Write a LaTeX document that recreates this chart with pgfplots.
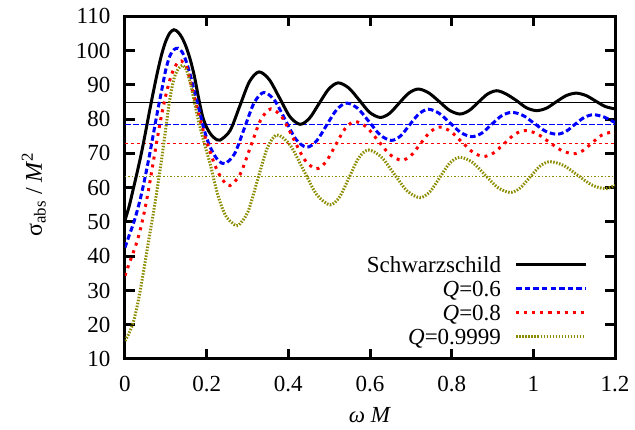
\documentclass[border=0pt]{standalone}
\usepackage{fontspec}
\setmainfont{Liberation Serif}
\usepackage{pgfplots}
\pgfplotsset{compat=1.18}
\definecolor{olivec}{RGB}{140,140,0}
\begin{document}
\begin{tikzpicture}[font=\fontsize{23}{27.6}\selectfont]
\begin{axis}[
  name=ax,
  scale only axis,
  width=490pt, height=342.6pt,
  xmin=0, xmax=1.2, ymin=10, ymax=110,
  xtick={0,0.2,0.4,0.6,0.8,1,1.2},
  ytick={10,20,30,40,50,60,70,80,90,100,110},
  /pgf/number format/assume math mode=true,
  tick align=inside,
  major tick length=10pt,
  tick style={line width=3pt, black},
  axis line style={line width=3pt},
  xticklabel style={inner sep=0pt, yshift=-17pt},
  yticklabel style={inner sep=0pt, xshift=-14.5pt},
  xlabel={\textit{ω} \textit{M}},
  xlabel style={at={(axis description cs:0.5,0)}, anchor=base, yshift=-64pt, inner sep=0pt},
  ylabel={σ\textsubscript{abs} / \textit{M}\textsuperscript{2}},
  ylabel style={at={(axis description cs:-0.1694,0.48)}, anchor=base, inner sep=0pt, font=\fontsize{24}{28}\selectfont},
  legend cell align=right,
  legend plot pos=right,
  legend image code/.code={\draw[#1] (0pt,0pt) -- (69pt,0pt);},
  legend style={draw=none, fill=none, at={(axis description cs:1,0)}, anchor=south east,
    xshift=-28pt, yshift=10pt, inner sep=0pt, outer sep=0pt, row sep=0pt, column sep=14pt,
    nodes={inner sep=0pt, text height=19.7pt, text depth=4.3pt}},
]
% reference (geometric) lines
\addplot[forget plot, black, line width=1pt] coordinates {(0,84.9) (1.2,84.9)};
\addplot[forget plot, blue, line width=1pt, dash pattern=on 6pt off 2pt] coordinates {(0,78.5) (1.2,78.5)};
\addplot[forget plot, red, line width=1pt, dash pattern=on 3pt off 3pt] coordinates {(0,73.0) (1.2,73.0)};
\addplot[forget plot, olivec, line width=1.3pt, dash pattern=on 1.5pt off 2pt] coordinates {(0,63.3) (1.2,63.3)};

% Schwarzschild
\addplot[black, line width=3pt, smooth] coordinates {
(0,50.5) (0.01,54.5) (0.02,59.5) (0.03,64.6) (0.04,70.0) (0.05,76.0) (0.06,82.3) (0.07,88.3)
(0.08,94.0) (0.09,99.0) (0.10,102.8) (0.11,105.2) (0.12,106.1) (0.13,105.4) (0.14,103.7)
(0.15,101.0) (0.16,97.3) (0.17,92.5) (0.18,86.3) (0.19,80.8) (0.20,77.6) (0.21,75.6)
(0.22,74.4) (0.233,73.9) (0.2575,76.7) (0.281,83.8) (0.3045,90.9) (0.328,93.8)
(0.353,91.6) (0.3785,86.2) (0.404,80.7) (0.429,78.5) (0.452,80.3) (0.4755,84.6)
(0.499,88.8) (0.522,90.6) (0.548,89.1) (0.5735,85.6) (0.599,82.0) (0.625,80.5)
(0.648,81.7) (0.6715,84.7) (0.695,87.6) (0.718,88.8) (0.7435,87.7) (0.769,85.2)
(0.7945,82.6) (0.820,81.5) (0.8425,82.5) (0.865,84.9) (0.8875,87.3) (0.910,88.3)
(0.9325,87.4) (0.959,85.4) (0.9835,83.3) (1.008,82.5) (1.032,83.2) (1.0565,85.1)
(1.081,86.9) (1.105,87.6) (1.129,86.9) (1.1525,85.3) (1.176,83.7) (1.2,83.0)};
\addlegendentry{Schwarzschild}

% Q = 0.6
\addplot[blue, line width=3pt, smooth, dash pattern=on 5.5pt off 3pt] coordinates {
(0,42.5) (0.01,46.0) (0.02,49.3) (0.03,53.3) (0.04,58.0) (0.05,63.5) (0.06,69.5) (0.07,76.0)
(0.08,82.5) (0.09,88.5) (0.10,94.5) (0.11,98.5) (0.12,100.3) (0.13,100.7) (0.14,99.6)
(0.15,96.8) (0.16,92.8) (0.17,88.0) (0.18,83.5) (0.19,78.6) (0.20,74.5) (0.21,71.5)
(0.22,69.3) (0.23,67.8) (0.245,67.0) (0.2688,70.0) (0.2925,77.4) (0.3163,84.8) (0.340,87.8)
(0.3663,85.5) (0.3925,79.8) (0.4188,74.1) (0.445,71.8) (0.4695,73.7) (0.494,78.3)
(0.5185,82.8) (0.543,84.7) (0.5703,83.1) (0.5975,79.3) (0.6248,75.4) (0.652,73.8)
(0.6748,75.1) (0.6975,78.4) (0.7203,81.6) (0.743,82.9) (0.7695,81.7) (0.796,78.9)
(0.8225,76.1) (0.849,74.9) (0.8735,75.9) (0.898,78.5) (0.9225,81.0) (0.947,82.0)
(0.9745,81.1) (1.002,78.8) (1.0295,76.5) (1.057,75.6) (1.0795,76.4) (1.102,78.5)
(1.1245,80.5) (1.147,81.3) (1.1735,80.6) (1.2,79.0)};
\addlegendentry{\textit{Q}=0.6}

% Q = 0.8
\addplot[red, line width=3pt, smooth, dash pattern=on 3pt off 5pt] coordinates {
(0,34.3) (0.01,37.8) (0.02,41.0) (0.03,44.5) (0.04,49.0) (0.05,54.5) (0.06,61.0) (0.07,68.0)
(0.08,75.0) (0.09,81.5) (0.10,87.0) (0.11,91.5) (0.12,94.8) (0.13,96.6) (0.138,97.0)
(0.15,95.5) (0.16,91.0) (0.17,86.3) (0.18,81.5) (0.19,77.2) (0.20,73.3) (0.21,70.0)
(0.22,66.6) (0.233,63.4) (0.245,61.4) (0.257,60.6) (0.282,63.9) (0.307,71.8) (0.332,79.7)
(0.357,83.0) (0.3848,80.5) (0.4125,74.3) (0.4403,68.1) (0.468,65.5) (0.4918,67.5)
(0.5155,72.4) (0.5393,77.3) (0.563,79.3) (0.5915,77.7) (0.62,73.7) (0.6485,69.7)
(0.677,68.0) (0.7005,69.4) (0.724,72.9) (0.7475,76.3) (0.771,77.7) (0.7978,76.4)
(0.8245,73.4) (0.8513,70.4) (0.878,69.1) (0.9035,70.2) (0.929,72.9) (0.9545,75.6)
(0.980,76.7) (1.0095,75.7) (1.039,73.3) (1.0685,70.9) (1.098,69.9) (1.121,70.8)
(1.144,73.1) (1.167,75.3) (1.19,76.2) (1.2,76.1)};
\addlegendentry{\textit{Q}=0.8}

% Q = 0.9999
\addplot[olivec, line width=3pt, smooth, dash pattern=on 1.5pt off 1.5pt] coordinates {
(0,15.3) (0.01,17.5) (0.02,20.6) (0.03,25.5) (0.04,31.8) (0.05,38.8) (0.06,46.0) (0.07,53.0)
(0.08,60.5) (0.09,68.5) (0.10,77.5) (0.11,86.0) (0.12,91.8) (0.13,94.6) (0.14,95.7)
(0.15,94.5) (0.16,90.5) (0.17,85.0) (0.18,79.5) (0.19,74.8) (0.20,70.5) (0.21,66.3)
(0.22,61.2) (0.23,56.8) (0.24,53.5) (0.25,51.2) (0.262,49.8) (0.277,49.0) (0.3008,52.9)
(0.3245,62.2) (0.3483,71.5) (0.372,75.4) (0.4045,72.4) (0.437,65.2) (0.4695,58.0)
(0.502,55.0) (0.5255,57.3) (0.549,63.0) (0.5725,68.7) (0.596,71.0) (0.6275,69.0)
(0.659,64.05) (0.6905,59.1) (0.722,57.1) (0.7465,58.8) (0.771,63.0) (0.7955,67.2)
(0.820,68.9) (0.8508,67.4) (0.8815,63.75) (0.9123,60.1) (0.943,58.6) (0.9675,59.9)
(0.992,63.1) (1.0165,66.3) (1.041,67.6) (1.0748,66.45) (1.1085,63.65) (1.1423,60.85)
(1.176,59.7) (1.2,60.7)};
\addlegendentry{\textit{Q}=0.9999}
\end{axis}
\pgfresetboundingbox
\path[use as bounding box] ([shift={(-125pt,-71pt)}]ax.south west) rectangle ([shift={(20pt,16.4pt)}]ax.north east);
\end{tikzpicture}
\end{document}
